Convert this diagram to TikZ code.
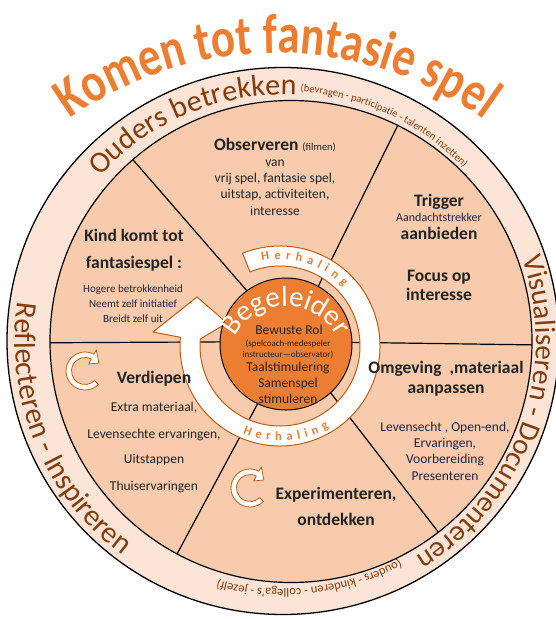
\documentclass[tikz,border=0pt]{standalone}
\usepackage{fontspec}
\setmainfont{Carlito}
\newfontfamily\titlefont[FakeStretch=0.8]{Carlito}
\usetikzlibrary{decorations.text,calc}
\definecolor{ringfill}{HTML}{FCE4D6}
\definecolor{segfill}{HTML}{F8CBAD}
\definecolor{orangeM}{HTML}{ED7D31}
\definecolor{brownT}{HTML}{843C0C}
\definecolor{brownL}{HTML}{C55A11}
\definecolor{txt}{HTML}{222222}
\definecolor{txtb}{HTML}{1F2340}
\newcommand\myfs[1]{\fontsize{#1}{#1}\selectfont}
\begin{document}
\begin{tikzpicture}[x=1pt,y=1pt,
  lbl/.style={anchor=base, inner sep=0pt, text=txt, font=\myfs{13.5}},
  hd/.style={lbl, font=\myfs{17.5}\bfseries},
  sm/.style={lbl, font=\myfs{11}},
  tiny/.style={lbl, font=\myfs{9}},
  segline/.style={line width=1.2pt, draw=black},
  bandstyle/.style={fill=white, draw=brownL, line width=1pt, line join=round},
  iconstyle/.style={fill=white, draw=brownL, line width=0.8pt, line join=round},
  recyc/.pic={\draw[iconstyle] (-45:19) arc[start angle=-45, end angle=-298, radius=19] -- (-298:24) -- (-330:16) -- (-298:8) -- (-298:13.5) arc[start angle=-298, end angle=-45, radius=13.5] -- cycle;}
]
\useasboundingbox (0,0) rectangle (555,-619);
\coordinate (O) at (283,-341);
\coordinate (M) at (291,-341.5);
\coordinate (B) at (280,-346);
\coordinate (C) at (286,-344);
\coordinate (T) at (276,-408);
\coordinate (Cb) at (286,-364);
\coordinate (barbout) at (153,-332);
\coordinate (tip) at (197,-297);
\coordinate (barbin) at (227,-323);

% rings
\filldraw[fill=ringfill, draw=black, line width=1.3pt] (O) ellipse [x radius=276, y radius=273.5];
\filldraw[fill=segfill, draw=black, line width=1.2pt] (M) circle[radius=241];
\foreach \a in {-0.8,63.7,131,180.3,-118.2,-52.3} \draw[segline] (M) -- ++(\a:241);

% circular arrow band
\draw[bandstyle] ($(B)+(112:100)$) arc[start angle=112, end angle=-185, radius=100]
  -- (barbout) -- (tip) -- (barbin) -- ($(B)+(175:80)$)
  arc[start angle=-185, end angle=112, radius=80] -- cycle;
\path[decorate, decoration={text along path, text={|\myfs{12.5}\bfseries|H e r h a l i n g}, text color=orangeM, text align={fit to path stretching spaces}}]
  ($(B)+(102:87)$) arc[start angle=102, end angle=43, radius=87];
\path[decorate, decoration={text along path, text={|\myfs{12.5}\bfseries|H e r h a l i n g}, text color=orangeM, text align={fit to path stretching spaces}}]
  ($(B)+(247:95)$) arc[start angle=247, end angle=301, radius=95];

% centre
\filldraw[fill=orangeM, draw=black, line width=1pt] (C) circle[radius=66];
\path[decorate, decoration={text along path, text={|\myfs{29}|Begeleider}, text color=white, text align=center}]
  ($(Cb)+(160:58)$) arc[start angle=160, end angle=20, radius=58];
\node[lbl] (c1) at (289,-334) {Bewuste Rol};
\node[tiny] (c2) at (288,-346) {(spelcoach-medespeler};
\node[tiny] (c3) at (288,-357) {instructeur—observator)};
\node[lbl] (c4) at (288,-371) {Taalstimulering};
\node[lbl] (c5) at (288,-387) {Samenspel};
\node[lbl] (c6) at (288,-403) {stimuleren};

% icons
\pic at (85,-371) {recyc};
\pic at (250,-488) {recyc};

% segment texts
\node[hd] (o1) at (275,-150) {Observeren {\mdseries\myfs{10.5}(filmen)}};
\node[lbl] (o2) at (275,-166) {van};
\node[lbl] (o3) at (275,-182) {vrij spel, fantasie spel,};
\node[lbl] (o4) at (275,-198) {uitstap, activiteiten,};
\node[lbl] (o5) at (275,-215) {interesse};

\node[hd] (t1) at (439,-206) {Trigger};
\node[lbl, font=\myfs{12}, text=txtb] (t2) at (439,-221) {Aandachtstrekker};
\node[hd] (t3) at (439,-239) {aanbieden};
\node[hd] (t4) at (439,-281) {Focus op};
\node[hd] (t5) at (439,-300) {interesse};

\node[hd] (k1) at (134,-241) {Kind komt tot};
\node[hd] (k2) at (134,-268) {fantasiespel :};
\node[sm, text=txtb] (k3) at (133,-292) {Hogere betrokkenheid};
\node[sm, text=txtb] (k4) at (133,-307) {Neemt zelf initiatief};
\node[sm, text=txtb] (k5) at (133,-322) {Breidt zelf uit};

\node[hd] (v1) at (154,-383) {Verdiepen};
\node[lbl] (v2) at (154,-411) {Extra materiaal,};
\node[lbl] (v3) at (154,-438) {Levensechte ervaringen,};
\node[lbl] (v4) at (154,-463) {Uitstappen};
\node[lbl] (v5) at (154,-490) {Thuiservaringen};

\node[hd] (e1) at (336,-499) {Experimenteren,};
\node[hd] (e2) at (336,-525) {ontdekken};

\node[hd] (m1) at (446,-373) {Omgeving\ \ ,materiaal};
\node[hd] (m2) at (446,-393) {aanpassen};
\node[lbl, text=txtb] (m3) at (445,-431) {Levensecht , Open-end,};
\node[lbl, text=txtb] (m4) at (445,-447) {Ervaringen,};
\node[lbl, text=txtb] (m5) at (445,-463) {Voorbereiding};
\node[lbl, text=txtb] (m6) at (445,-480) {Presenteren};

% ring texts
\path[decorate, decoration={text along path, text={|\myfs{30}|Ouders betrekken}, text color=brownT}]
  ($(O)+(138:246)$) arc[start angle=138, end angle=78, radius=246];
\path[decorate, decoration={text along path, text={|\myfs{10.5}|(bevragen - participatie - talenten inzetten)}, text color=brownT}]
  ($(O)+(86:250)$) arc[start angle=86, end angle=33, radius=250];
\path[decorate, decoration={text along path, text={|\myfs{29}|Visualiseren - Documenteren}, text color=brownT}]
  ($(O)+(19:253)$) arc[start angle=19, end angle=-66, radius=253];
\path[decorate, decoration={text along path, text={|\myfs{12.5}|(ouders - kinderen - collega's - jezelf)}, text color=brownT}]
  ($(O)+(-62:248)$) arc[start angle=-62, end angle=-114, radius=248];
\path[decorate, decoration={text along path, text={|\myfs{30}|Reflecteren - Inspireren}, text color=brownT}]
  ($(O)+(171.6:268)$) arc[start angle=171.6, end angle=242, radius=268];

% title
\path[decorate, decoration={text along path, text={|\titlefont\bfseries\myfs{56}|Komen tot fantasie spel}, text color=orangeM}]
  ($(T)+(125.5:355)$) arc[start angle=125.5, end angle=48, radius=355];
\end{tikzpicture}
\end{document}
